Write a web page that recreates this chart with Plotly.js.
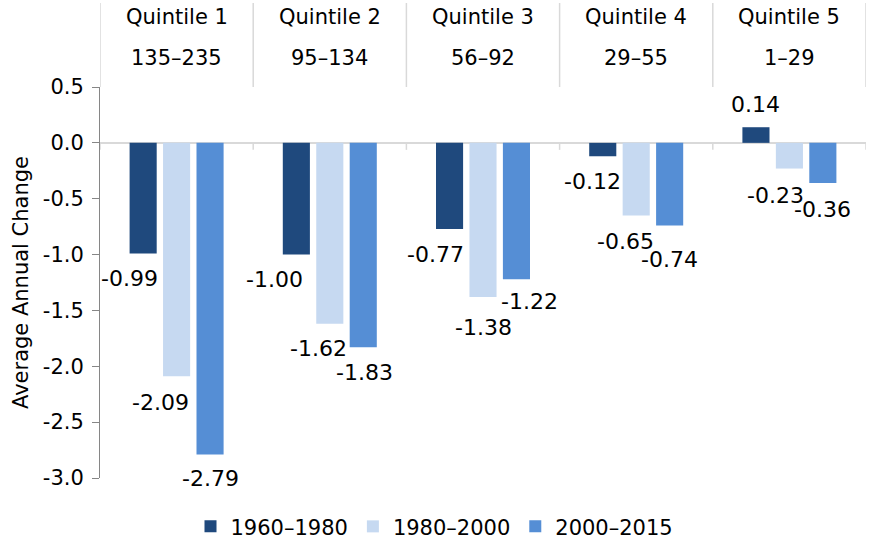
<!DOCTYPE html>
<html><head><meta charset="utf-8">
<script src="https://cdn.plot.ly/plotly-3.0.1.min.js"></script>
<style>html,body{margin:0;padding:0;background:#fff}#chart{width:869px;height:543px}</style>
</head><body><div id="chart"></div>
<script>
const quintiles = ["Quintile 1","Quintile 2","Quintile 3","Quintile 4","Quintile 5"];
const ranges = ["135–235","95–134","56–92","29–55","1–29"];
const seriesNames = ["1960–1980","1980–2000","2000–2015"];
const v1960_1980 = [-0.99,-1.00,-0.77,-0.12,0.14];
const v1980_2000 = [-2.09,-1.62,-1.38,-0.65,-0.23];
const v2000_2015 = [-2.79,-1.83,-1.22,-0.74,-0.36];
const tickVals = [-3,-2.5,-2,-1.5,-1,-0.5,0,0.5];
const tickText = ["-3.0","-2.5","-2.0","-1.5","-1.0","-0.5","0.0","0.5"];

const colors = ["#1F497D","#C6D9F1","#558ED5"];
const nudgeX = [[-13.5,-22,-14,-10.5,0],[-16,-11,0,-10.5,-13.5],[0,1.5,13.5,0,0]];
const nudgeY = [[26,26,27,26,-22],[27,26,31,27,28],[25,26,23,35,27]];

const FONT = "DejaVu Sans, Verdana, sans-serif";
const M = {l:100, r:3, t:87, b:65};
const W = 869, H = 543;
const bargap = 0.345, bargroupgap = 0.19;
const allSeries = [v1960_1980, v1980_2000, v2000_2015];

const traces = allSeries.map((vals, s) => ({
  type: "bar", name: seriesNames[s], x: quintiles, y: vals,
  marker: {color: colors[s]}, hoverinfo: "skip"
}));

const plotW = W - M.l - M.r;
const catW = plotW / quintiles.length;
const slot = catW * (1 - bargap) / allSeries.length;

const annotations = [];
allSeries.forEach((vals, s) => {
  vals.forEach((v, i) => {
    annotations.push({
      x: quintiles[i], y: v, xref: "x", yref: "y",
      text: v.toFixed(2), showarrow: false,
      xanchor: "center", yanchor: "middle",
      xshift: (s - 1) * slot + nudgeX[s][i],
      yshift: -nudgeY[s][i] + 1,
      font: {family: FONT, size: 22, color: "#000"}
    });
  });
});
quintiles.forEach((q, i) => {
  annotations.push({x: q, y: 1, xref: "x", yref: "paper", text: q, showarrow: false,
    xanchor: "center", yanchor: "middle", yshift: 70, font: {family: FONT, size: 21, color: "#000"}});
  annotations.push({x: q, y: 1, xref: "x", yref: "paper", text: ranges[i], showarrow: false,
    xanchor: "center", yanchor: "middle", yshift: 29, font: {family: FONT, size: 21, color: "#000"}});
});

const shapes = [];
for (let i = 0; i <= quintiles.length; i++) {
  shapes.push({type: "line", xref: "x", yref: "paper", x0: i - 0.5, x1: i - 0.5,
    ysizemode: "pixel", yanchor: 1, y0: 0, y1: 84, line: {color: "#D9D9D9", width: 1.5}});
  shapes.push({type: "line", xref: "x", yref: "y", x0: i - 0.5, x1: i - 0.5,
    ysizemode: "pixel", yanchor: 0, y0: 0, y1: -7, line: {color: "#D9D9D9", width: 1.5}});
}

const layout = {
  width: W, height: H, margin: M, paper_bgcolor: "#fff", plot_bgcolor: "#fff",
  font: {family: FONT, size: 21, color: "#000"},
  barmode: "group", bargap: bargap, bargroupgap: bargroupgap,
  showlegend: true,
  legend: {orientation: "h", xref: "container", x: 0.5, xanchor: "center", yref: "container", y: 0.03, yanchor: "middle",
    font: {family: FONT, size: 21, color: "#000"}, itemwidth: 30, traceorder: "normal"},
  xaxis: {type: "category", range: [-0.5, 4.5], showticklabels: false, ticks: "", showgrid: false, zeroline: false, showline: false, fixedrange: true},
  yaxis: {range: [-3, 0.5], tickvals: tickVals, ticktext: tickText, ticks: "outside", ticklen: 7, tickcolor: "#868686", tickwidth: 1,
    showline: true, linecolor: "#868686", linewidth: 1, showgrid: false, zeroline: true, zerolinecolor: "#D9D9D9", zerolinewidth: 2,
    tickfont: {family: FONT, size: 21, color: "#000"}, ticklabelstandoff: 4,
    title: {text: "Average Annual Change", font: {family: FONT, size: 21, color: "#000"}, standoff: 8}, automargin: false, fixedrange: true},
  annotations: annotations, shapes: shapes
};
Plotly.newPlot("chart", traces, layout, {displayModeBar: false, staticPlot: true});
</script></body></html>
